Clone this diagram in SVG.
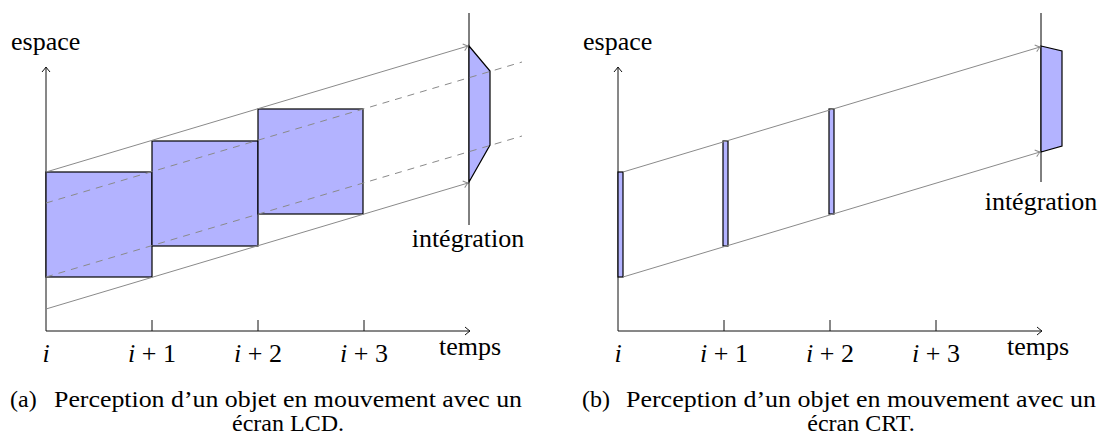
<svg xmlns="http://www.w3.org/2000/svg" width="1103" height="438" viewBox="0 0 1103 438">
<style>
.ax{stroke:#111;stroke-width:1;fill:none}
.tk{stroke:#111;stroke-width:1;fill:none}
.gl{stroke:#8a8a8a;stroke-width:1;fill:none}
.dl{stroke:#8a8a8a;stroke-width:1;fill:none;stroke-dasharray:7 6}
.box{fill:#b3b3ff;stroke:#000;stroke-width:1.2}
.il{stroke:#000;stroke-width:1;fill:none}
.lbl{font-family:'Liberation Serif','Times New Roman','Tinos','DejaVu Serif','Noto Serif',Times,serif;font-size:26px;fill:#000}
.cap{font-family:'Liberation Serif','Times New Roman','Tinos','DejaVu Serif','Noto Serif',Times,serif;font-size:24px;fill:#000}
</style>
<defs>
<marker id="arr" viewBox="-7 -6 9 12" markerWidth="9" markerHeight="12" refX="0" refY="0" orient="auto" markerUnits="userSpaceOnUse">
<path d="M-5,-4 Q-1.5,-1 0,0 Q-1.5,1 -5,4" fill="none" stroke="#111" stroke-width="1"/>
</marker>
<marker id="garr" viewBox="-7 -6 9 12" markerWidth="9" markerHeight="12" refX="0" refY="0" orient="auto" markerUnits="userSpaceOnUse">
<path d="M-4.5,-3.5 Q-1.5,-1 0,0 Q-1.5,1 -4.5,3.5" fill="none" stroke="#8a8a8a" stroke-width="1"/>
</marker>
</defs>
<rect width="1103" height="438" fill="#fff"/>

<!-- LEFT PANEL (a) -->
<g id="lcd-axes">
<path class="ax" d="M46,331 V67" marker-end="url(#arr)"/>
<path class="ax" d="M46,331 H470" marker-end="url(#arr)"/>
<path class="tk" d="M152,320 V331 M258,320 V331 M364,320 V331"/>
</g>
<g id="lcd-frame-i"><rect class="box" x="46" y="172" width="106" height="105"/></g>
<g id="lcd-frame-i1"><rect class="box" x="152" y="141" width="106" height="105"/></g>
<g id="lcd-frame-i2"><rect class="box" x="258" y="109" width="105" height="105"/></g>
<g id="lcd-integration">
<path class="il" d="M469,13 V225"/>
<polygon class="box" points="469,46 490,71 490,145 469,182"/>
</g>
<g id="lcd-connectors">
<path class="gl" d="M46,172 L468,46" marker-end="url(#garr)"/>
<path class="gl" d="M46,309 L468,183" marker-end="url(#garr)"/>
<path class="dl" d="M46,203 L522,62"/>
<path class="dl" d="M46,277 L522,136"/>
</g>
<g id="lcd-labels" class="lbl">
<text x="11" y="50">espace</text>
<text x="470" y="355" text-anchor="middle">temps</text>
<text x="468" y="247" text-anchor="middle">intégration</text>
<text x="46" y="362" text-anchor="middle" font-style="italic">i</text>
<text x="152" y="362" text-anchor="middle"><tspan font-style="italic">i</tspan> + 1</text>
<text x="258" y="362" text-anchor="middle"><tspan font-style="italic">i</tspan> + 2</text>
<text x="364" y="362" text-anchor="middle"><tspan font-style="italic">i</tspan> + 3</text>
</g>
<g id="lcd-caption" class="cap">
<text x="10" y="407">(a)</text>
<text x="54" y="407" textLength="468" lengthAdjust="spacingAndGlyphs">Perception d’un objet en mouvement avec un</text>
<text x="288" y="431" text-anchor="middle">écran LCD.</text>
</g>

<!-- RIGHT PANEL (b) -->
<g id="crt-axes">
<path class="ax" d="M618,331 V67" marker-end="url(#arr)"/>
<path class="ax" d="M618,331 H1042" marker-end="url(#arr)"/>
<path class="tk" d="M724,320 V331 M830,320 V331 M936,320 V331"/>
</g>
<g id="crt-flash-i"><rect class="box" x="618" y="172" width="5" height="105"/></g>
<g id="crt-flash-i1"><rect class="box" x="723" y="141" width="5" height="105"/></g>
<g id="crt-flash-i2"><rect class="box" x="829" y="109" width="5" height="105"/></g>
<g id="crt-integration">
<path class="il" d="M1041,13 V182"/>
<polygon class="box" points="1041,46 1062,51 1062,146 1041,152"/>
</g>
<g id="crt-connectors">
<path class="gl" d="M623,172 L1040,47" marker-end="url(#garr)"/>
<path class="gl" d="M623,277 L1040,152" marker-end="url(#garr)"/>
</g>
<g id="crt-labels" class="lbl">
<text x="583" y="50">espace</text>
<text x="1038" y="355" text-anchor="middle">temps</text>
<text x="1041" y="210" text-anchor="middle">intégration</text>
<text x="618" y="362" text-anchor="middle" font-style="italic">i</text>
<text x="724" y="362" text-anchor="middle"><tspan font-style="italic">i</tspan> + 1</text>
<text x="830" y="362" text-anchor="middle"><tspan font-style="italic">i</tspan> + 2</text>
<text x="936" y="362" text-anchor="middle"><tspan font-style="italic">i</tspan> + 3</text>
</g>
<g id="crt-caption" class="cap">
<text x="582" y="407">(b)</text>
<text x="626" y="407" textLength="470" lengthAdjust="spacingAndGlyphs">Perception d’un objet en mouvement avec un</text>
<text x="861" y="431" text-anchor="middle">écran CRT.</text>
</g>
</svg>
